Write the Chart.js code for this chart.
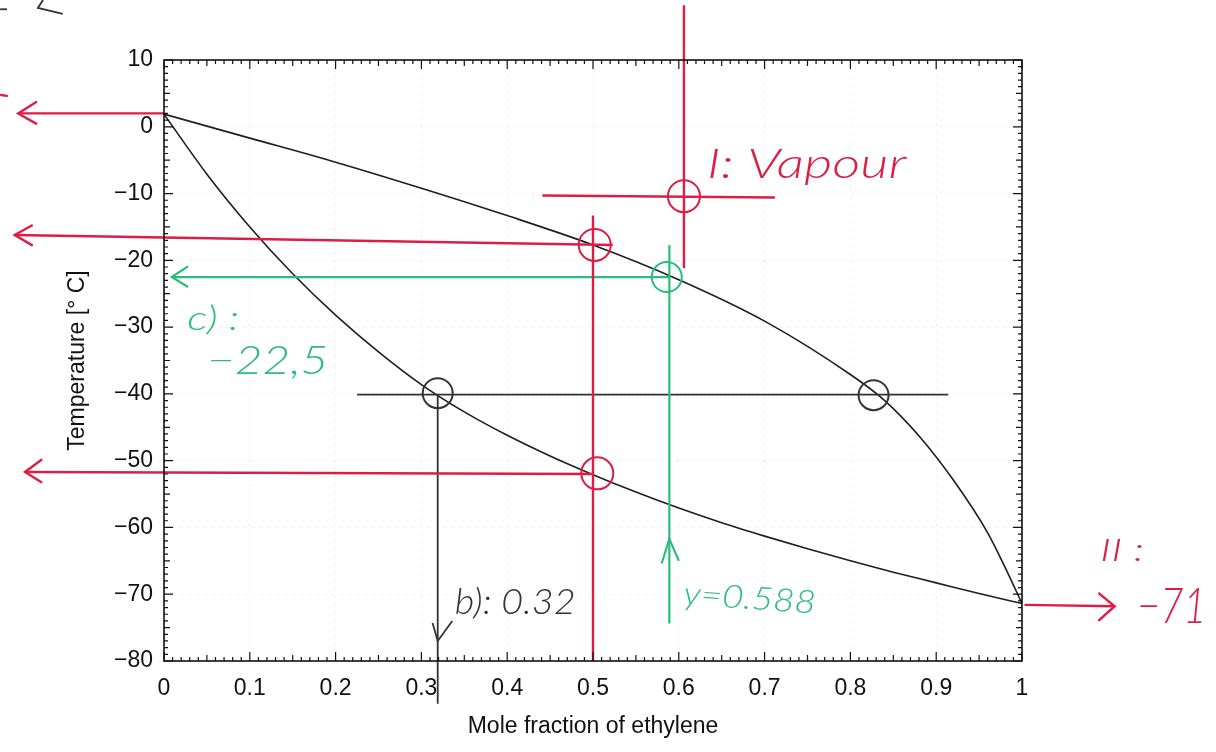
<!DOCTYPE html>
<html>
<head>
<meta charset="utf-8">
<script src="https://cdn.jsdelivr.net/npm/chart.js@4/dist/chart.umd.min.js"></script>
<style>
  html, body { margin: 0; padding: 0; background: #fff; }
  #wrap { width: 1216px; height: 752px; position: relative; }
</style>
</head>
<body>
<div id="wrap"><canvas id="c" width="1216" height="752"></canvas></div>
<script>
// ---- axis ticks ----
const xTickValues = [0, 0.1, 0.2, 0.3, 0.4, 0.5, 0.6, 0.7, 0.8, 0.9, 1];
const yTickValues = [10, 0, -10, -20, -30, -40, -50, -60, -70, -80];

// ---- dew-point curve (upper) ----
const dewX = [0, 0.1, 0.2, 0.3, 0.4, 0.5, 0.6, 0.7, 0.8, 0.84, 0.88, 0.92, 0.96, 0.98, 1];
const dewT = [1.9, -1.7, -5.3, -9.2, -13.3, -17.7, -22.9, -29.1, -37.1, -41.0, -46.3, -52.9, -60.8, -65.9, -71.4];

// ---- bubble-point curve (lower) ----
const bubX = [0, 0.05, 0.1, 0.15, 0.2, 0.25, 0.3, 0.35, 0.4, 0.45, 0.5, 0.55, 0.6, 0.65, 0.7, 0.75, 0.8, 0.85, 0.9, 0.95, 1];
const bubT = [1.9, -7.1, -15.0, -22.0, -28.2, -33.7, -38.6, -42.7, -46.2, -49.3, -52.1, -54.7, -57.1, -59.3, -61.3, -63.2, -65.0, -66.7, -68.3, -69.9, -71.4];

// ---- handwritten annotation strokes (data coordinates: [x, T]) ----
const redStrokes = [
  [[0, 2.0], [-0.170, 2.0]],
  [[-0.148, 3.8], [-0.170, 2.0], [-0.148, 0.4]],
  [[0.523, -17.7], [-0.174, -16.2]],
  [[-0.153, -14.7], [-0.174, -16.2], [-0.153, -17.8]],
  [[0.500, -52.0], [-0.162, -51.7]],
  [[-0.142, -49.8], [-0.162, -51.7], [-0.142, -53.3]],
  [[0.500, -13.3], [0.500, -80]],
  [[0.606, 18.2], [0.606, -21.2]],
  [[0.441, -10.3], [0.712, -10.6]],
  [[1.003, -71.6], [1.108, -71.8]],
  [[1.089, -69.8], [1.108, -71.8], [1.089, -74.0]],
  [[-0.191, 4.8], [-0.182, 4.6]]
];
const greenStrokes = [
  [[0.589, -22.5], [0.009, -22.5]],
  [[0.028, -20.9], [0.009, -22.5], [0.028, -24.0]],
  [[0.589, -17.7], [0.589, -74.4]],
  [[0.580, -65.4], [0.589, -61.7], [0.600, -65.0]]
];
const blackStrokes = [
  [[0.225, -40.1], [0.914, -40.1]],
  [[0.319, -40.1], [0.319, -86.4]],
  [[0.313, -74.3], [0.319, -77.0], [0.336, -74.0]],
  [[-0.191, 17.6], [-0.183, 17.6]],
  [[-0.141, 19.0], [-0.147, 17.8], [-0.118, 16.9]]
];

// ---- circled points ----
const redCircles = [[0.606, -10.4], [0.502, -17.7], [0.505, -51.9]];
const greenCircles = [[0.586, -22.5]];
const blackCircles = [[0.319, -39.9], [0.827, -40.2]];

// ---- handwritten notes ----
const noteText = ['I: Vapour', 'c) :', '\u221222,5', 'b): 0.32', 'y=0.588', 'II :', '\u221271'];
const noteX = [0.633, 0.027, 0.050, 0.339, 0.605, 1.091, 1.134];
const noteT = [-7.6, -30.5, -37.0, -73.0, -71.5, -65.0, -74.3];
const noteColor = ['#dc1e46', '#2dbb80', '#2dbb80', '#333333', '#2dbb80', '#dc1e46', '#dc1e46'];
const noteSize = [42, 34, 40, 36, 32, 32, 50];
const noteStretch = [1.3, 1.3, 1.2, 1.05, 1.15, 1.4, 0.8];
const noteRot = [0, 0, 0, 0, 4, 0, 0];

const RED = '#dc1e46', GREEN = '#2dbb80', BLACK = '#333333';

const pts = (xs, ys) => xs.map((x, i) => ({x, y: ys[i]}));
const strokeSets = (list, color, w) => list.map(s => ({
  type: 'line', data: s.map(p => ({x: p[0], y: p[1]})),
  borderColor: color, borderWidth: w, pointRadius: 0, fill: false,
  clip: false, tension: 0, order: 1
}));
const circleSet = (list, color, r) => ({
  type: 'scatter', data: list.map(p => ({x: p[0], y: p[1]})),
  pointRadius: r, pointStyle: 'circle', backgroundColor: 'rgba(0,0,0,0)',
  borderColor: color, pointBorderColor: color, pointBorderWidth: 2, borderWidth: 2,
  showLine: false, clip: false, order: 0
});

const datasets = [
  {type: 'line', data: pts(dewX, dewT), borderColor: '#1e1e1e', borderWidth: 1.6,
   pointRadius: 0, cubicInterpolationMode: 'monotone', fill: false, order: 2},
  {type: 'line', data: pts(bubX, bubT), borderColor: '#1e1e1e', borderWidth: 1.6,
   pointRadius: 0, cubicInterpolationMode: 'monotone', fill: false, order: 2},
  ...strokeSets(redStrokes, RED, 2.4),
  ...strokeSets(greenStrokes, GREEN, 2.2),
  ...strokeSets(blackStrokes, BLACK, 1.8),
  circleSet(redCircles, RED, 16),
  circleSet(greenCircles, GREEN, 15),
  circleSet(blackCircles, BLACK, 15)
];

const framePlugin = {
  id: 'frame',
  afterDatasetsDraw(chart) {
    const {ctx, chartArea: a, scales: {x, y}} = chart;
    ctx.save();
    ctx.strokeStyle = '#111';
    ctx.lineWidth = 1.6;
    ctx.strokeRect(a.left, a.top, a.right - a.left, a.bottom - a.top);
    ctx.lineWidth = 1.2;
    ctx.beginPath();
    for (let i = 0; i <= 100; i++) {
      const px = x.getPixelForValue(i / 100);
      const len = i % 10 === 0 ? 9 : (i % 5 === 0 ? 6 : 4);
      ctx.moveTo(px, a.bottom); ctx.lineTo(px, a.bottom - len);
      ctx.moveTo(px, a.top); ctx.lineTo(px, a.top + len);
    }
    for (let t = -80; t <= 10; t++) {
      const py = y.getPixelForValue(t);
      const len = t % 10 === 0 ? 9 : (t % 5 === 0 ? 6 : 4);
      ctx.moveTo(a.left, py); ctx.lineTo(a.left + len, py);
      ctx.moveTo(a.right, py); ctx.lineTo(a.right - len, py);
    }
    ctx.stroke();
    ctx.restore();
  }
};

const notesPlugin = {
  id: 'notes',
  afterDraw(chart) {
    const {ctx, scales: {x, y}} = chart;
    ctx.save();
    noteText.forEach((t, i) => {
      const px = x.getPixelForValue(noteX[i]);
      const py = y.getPixelForValue(noteT[i]);
      ctx.save();
      ctx.translate(px, py);
      ctx.rotate(noteRot[i] * Math.PI / 180);
      ctx.scale(noteStretch[i], 1);
      ctx.font = 'italic 300 ' + noteSize[i] + 'px Lato, "DejaVu Sans", sans-serif';
      ctx.fillStyle = noteColor[i];
      ctx.textAlign = 'left';
      ctx.textBaseline = 'alphabetic';
      ctx.fillText(t, 0, 0);
      ctx.restore();
    });
    ctx.restore();
  }
};

const fmtX = v => { const r = Math.round(v * 10) / 10; return String(r); };
const fmtY = v => v < 0 ? '\u2212' + Math.abs(v) : String(v);

new Chart(document.getElementById('c'), {
  data: {datasets},
  options: {
    responsive: false,
    animation: false,
    layout: {padding: {left: 0, right: 194, top: 60, bottom: 0}},
    plugins: {legend: {display: false}, tooltip: {enabled: false}},
    scales: {
      x: {
        type: 'linear', min: 0, max: 1,
        afterBuildTicks: s => { s.ticks = xTickValues.map(v => ({value: v})); },
        afterFit: s => { s.height = 91; },
        ticks: {callback: fmtX, color: '#111', padding: 14, maxRotation: 0,
                font: {family: '"Liberation Sans", Arial, sans-serif', size: 23}},
        grid: {color: 'rgba(0,0,0,0.08)', drawTicks: false},
        border: {display: false, dash: [2, 6]},
        title: {display: true, text: 'Mole fraction of ethylene', color: '#111',
                font: {family: '"Liberation Sans", Arial, sans-serif', size: 23},
                padding: {top: 0, bottom: 12}}
      },
      y: {
        type: 'linear', min: -80, max: 10,
        afterBuildTicks: s => { s.ticks = yTickValues.map(v => ({value: v})); },
        afterFit: s => { s.width = 164; },
        ticks: {callback: fmtY, color: '#111', padding: 11,
                font: {family: '"Liberation Sans", Arial, sans-serif', size: 23}},
        grid: {color: 'rgba(0,0,0,0.08)', drawTicks: false},
        border: {display: false, dash: [2, 6]},
        title: {display: true, text: 'Temperature [\u00b0 C]', color: '#111',
                font: {family: '"Liberation Sans", Arial, sans-serif', size: 23},
                padding: {top: 64, bottom: 0}}
      }
    }
  },
  plugins: [framePlugin, notesPlugin]
});
</script>
</body>
</html>
